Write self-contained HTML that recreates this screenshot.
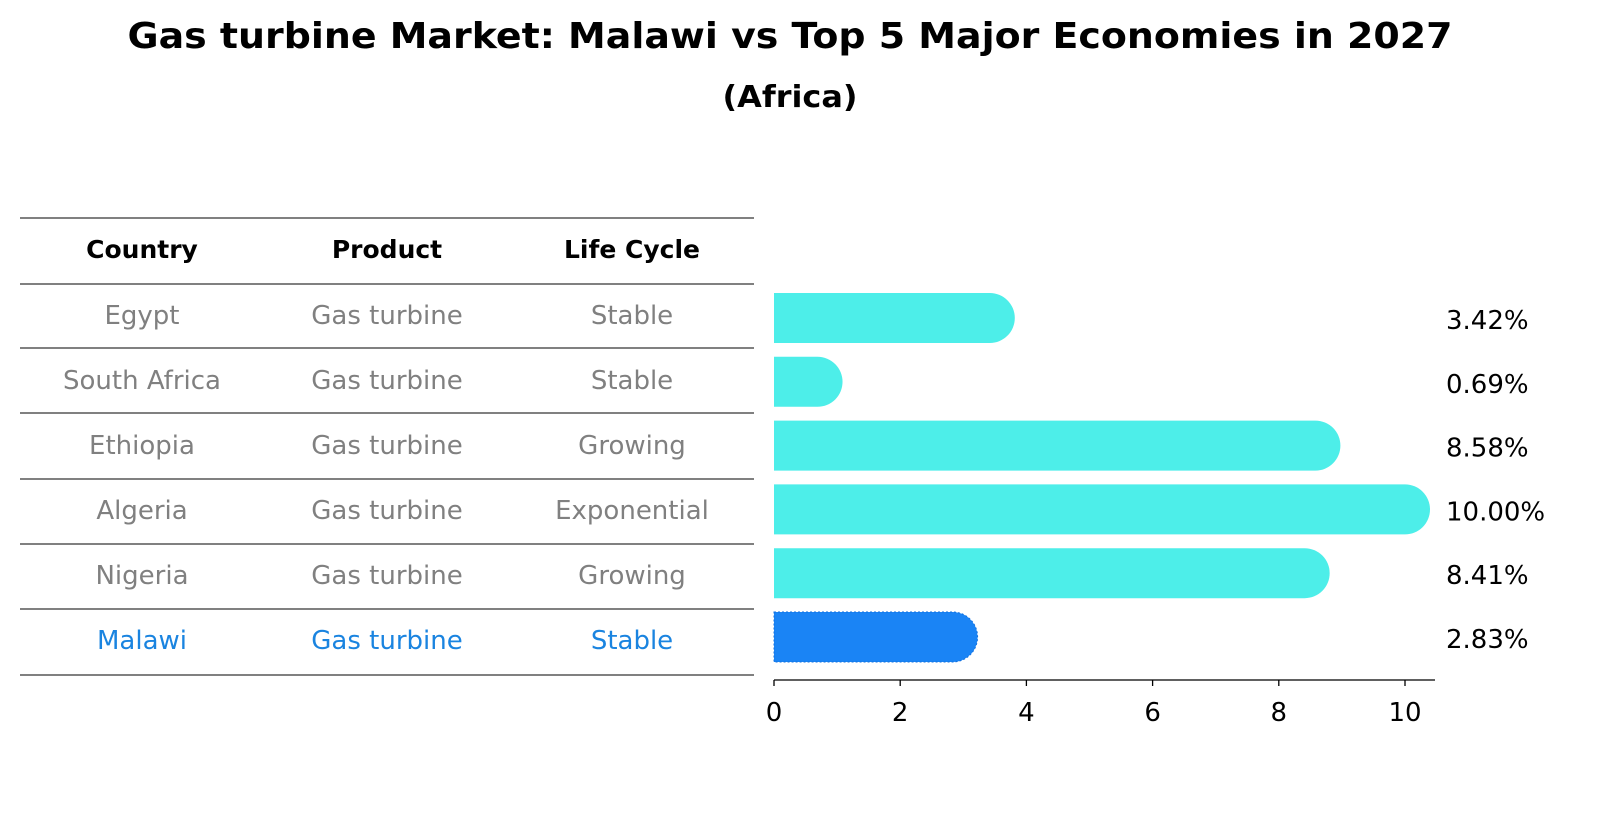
<!DOCTYPE html>
<html><head><meta charset="utf-8"><style>
body{margin:0;background:#fff;font-family:"Liberation Sans","DejaVu Sans",sans-serif;}
svg text{font-family:"DejaVu Sans","Liberation Sans",sans-serif;}
</style></head><body>
<svg id="c" width="1604" height="823" viewBox="0 0 1604 823">
<text x="790" y="48" text-anchor="middle" font-size="36" font-weight="bold" textLength="1325" lengthAdjust="spacingAndGlyphs">Gas turbine Market: Malawi vs Top 5 Major Economies in 2027</text>
<text x="790" y="107" text-anchor="middle" font-size="30" font-weight="bold" textLength="135" lengthAdjust="spacingAndGlyphs">(Africa)</text>
<g id="table"></g>
<g id="bars"></g>
</svg>
<script>
const countries=["Egypt","South Africa","Ethiopia","Algeria","Nigeria","Malawi"];
const products=["Gas turbine","Gas turbine","Gas turbine","Gas turbine","Gas turbine","Gas turbine"];
const lifeCycles=["Stable","Stable","Growing","Exponential","Growing","Stable"];
const values=[3.42,0.69,8.58,10.00,8.41,2.83];
const ticks=[0,2,4,6,8,10];
const NS="http://www.w3.org/2000/svg";
function mk(t,a,p,txt){const e=document.createElementNS(NS,t);for(const k in a)e.setAttribute(k,a[k]);if(txt!==undefined)e.textContent=txt;p.appendChild(e);return e;}
const tbl=document.getElementById('table'),bars=document.getElementById('bars');
const x=v=>774+v*63.1;
const rowY=i=>318+i*63.8;
const lineYs=[218,284,348,413,479,544,609,675];
lineYs.forEach(y=>{const l=mk('line',{x1:20,x2:754,y1:y,y2:y,stroke:'#000','stroke-width':1},tbl);

});
const cx=[142,387,632];
["Country","Product","Life Cycle"].forEach((h,j)=>{const t=mk('text',{x:cx[j],y:258,'text-anchor':'middle','font-size':25,'font-weight':'bold'},tbl,h);

});
const tys=[315,380,445,510,575,640];
countries.forEach((c,i)=>{const col=i===5?'#1a84e0':'#808080';
[c,products[i],lifeCycles[i]].forEach((s,j)=>{const t=mk('text',{x:cx[j],y:tys[i]+9,'text-anchor':'middle','font-size':26,fill:col},tbl,s);

});
const y=rowY(i),h=50,r=25;const x0=x(0),x1=x(values[i]);
const fill=i===5?'#1a84f5':'#4deee9';
const p=mk('path',{d:`M${x0},${y-h/2} H${x1} A${r},${r} 0 0 1 ${x1},${y+h/2} H${x0} Z`,fill:fill},bars);
if(i===5){p.setAttribute('stroke','#1070e0');p.setAttribute('stroke-dasharray','2,2');}


const t=mk('text',{x:1446,y:y+11,'font-size':26},bars,values[i].toFixed(2)+'%');

});
const ax=mk('line',{x1:774,x2:1435,y1:680,y2:680,stroke:'#000','stroke-width':1.3},bars);


ticks.forEach(v=>{const l=mk('line',{x1:x(v),x2:x(v),y1:680,y2:686,stroke:'#000','stroke-width':1.3},bars);


const t=mk('text',{x:x(v),y:721,'text-anchor':'middle','font-size':26},bars,String(v));

});
</script>
</body></html>
